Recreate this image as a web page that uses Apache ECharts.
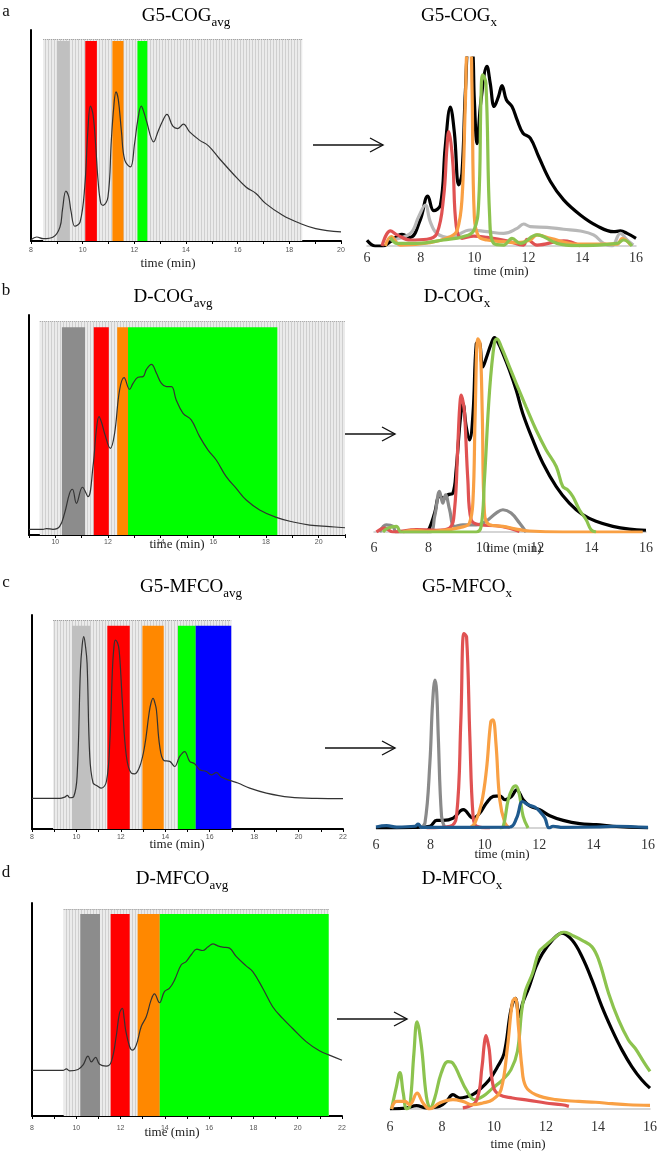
<!DOCTYPE html>
<html><head><meta charset="utf-8">
<script src="https://cdn.jsdelivr.net/npm/echarts@6/dist/echarts.min.js"></script>
<style>html,body{margin:0;padding:0;background:#fff}#c{width:660px;height:1152px}</style>
</head><body><div id="c"></div>
<script>
// ---------- DATA ----------
// Panel a (G5-COG)
const aLeftBlack=[[8.0,0.6],[8.22,1.9],[8.48,1.1],[8.86,1.9],[9.12,6.6],[9.22,15],[9.35,23.7],[9.46,21],[9.55,14],[9.7,7.0],[9.9,9.0],[10.08,25.6],[10.2,52],[10.3,63.9],[10.4,60],[10.5,46],[10.6,28],[10.7,18],[10.79,16.9],[10.98,20.9],[11.11,47.8],[11.2,63],[11.29,70.7],[11.38,67],[11.5,52],[11.63,38.3],[11.85,35.1],[12.01,46.2],[12.13,57],[12.27,63.9],[12.37,61],[12.46,57.3],[12.75,47],[12.91,51.7],[13.1,57],[13.26,60],[13.49,54.4],[13.68,53.3],[13.9,55.4],[14.14,51.7],[14.52,47.8],[14.87,45.1],[15.29,39.1],[15.81,32],[16.32,25.6],[16.71,22.5],[17.09,17.7],[17.74,12.2],[18.38,8.5],[19.02,5.9],[20,4.3]];
const aFraction=[8.47,18.5];
const aBands=[[9.0,9.5],[10.1,10.55],[11.15,11.58],[12.12,12.5]];
const aRightBlack=[[6.0,3],[6.3,0],[6.6,0],[6.87,2.3],[7.3,6.2],[7.61,4.6],[7.98,13.9],[8.26,26.6],[8.48,18.8],[8.73,21.8],[8.91,52.9],[9.1,73.9],[9.25,60],[9.41,32.5],[9.53,38.7],[9.66,83],[9.78,104],[9.9,104],[9.99,77.8],[10.09,54.4],[10.24,77.8],[10.46,95.6],[10.58,86.7],[10.73,74.2],[10.89,79.6],[11.02,85.3],[11.18,77.8],[11.39,74.2],[11.58,67.1],[11.8,60],[12.07,57.4],[12.38,47.6],[12.82,34.3],[13.31,24.5],[13.93,16.5],[14.55,10.7],[15.17,7.6],[15.42,8],[15.67,6.7],[16.0,4.1]];
const aRightGray=[[6.87,3.2],[7.61,6.7],[7.92,15.6],[8.17,21.8],[8.35,13],[8.6,6.7],[9.1,4.6],[9.84,8.5],[10.46,7.6],[11.08,6.7],[11.58,9.4],[11.82,11.7],[12.07,10.3],[12.69,9.9],[13.31,8.9],[13.93,8],[14.42,5.9],[14.8,1.4],[15.1,0],[15.42,6.7],[15.67,3.2],[15.9,0.5]];
const aRightRed=[[6.56,0],[6.87,8],[7.12,5.9],[7.61,3.2],[8.23,3.6],[8.6,6.7],[8.85,26.3],[8.97,52],[9.04,60.9],[9.12,55],[9.2,42.3],[9.32,10.3],[9.53,4.1],[9.97,5.3],[10.46,4.6],[11.2,2.8],[11.82,0.5],[11.95,3.6],[12.32,0.5],[13.31,2.8],[13.93,0]];
const aRightOrange=[[6.68,0],[6.9,5],[7.24,0.5],[8.35,1.8],[9.1,5],[9.35,8.2],[9.53,24.5],[9.66,77.8],[9.74,104],[9.84,104],[9.9,86.7],[9.99,15.6],[10.15,5],[10.46,3.2],[11.08,2.3],[11.58,1.8],[12.07,3.2],[12.32,5.9],[12.82,4.1],[13.81,1],[15.3,1],[15.48,4],[15.8,0.5]];
const aRightGreen=[[6.87,4.6],[7.12,1.4],[7.86,1.4],[8.85,3.2],[9.59,5],[9.97,8.2],[10.15,22.7],[10.24,80],[10.3,91.1],[10.42,86.7],[10.56,15.6],[10.71,1.4],[11.08,0.5],[11.39,4.1],[11.7,1.4],[12.32,5.9],[13.06,1.4],[13.81,0.2],[15.3,1.4],[15.54,3.2],[15.85,0]];

// Panel b (D-COG)
const bLeftBlack=[[9.0,2.6],[9.53,2.6],[9.66,2.9],[9.91,2.6],[10.16,3.8],[10.35,9.8],[10.54,18.9],[10.65,20.8],[10.8,14.4],[11.03,21.7],[11.24,17.4],[11.43,31.1],[11.56,48],[11.66,53.8],[11.76,51],[11.87,46.2],[12.09,39.4],[12.25,46.2],[12.44,65.9],[12.61,71.5],[12.82,66.2],[12.95,68.9],[13.14,71.7],[13.33,72],[13.46,75.3],[13.65,77.6],[13.84,73.5],[14.03,68.9],[14.22,67.4],[14.41,67.4],[14.59,61.4],[14.85,55.3],[15.16,52.3],[15.48,44.7],[15.8,38.6],[16.11,34.1],[16.49,26.5],[16.87,21.2],[17.25,15.9],[17.76,11.4],[18.39,8],[19.03,5.9],[19.66,4.5],[20.42,3.8],[21,3.3]];
const bFraction=[9.41,21];
const bBands=[[10.25,11.13],[11.46,12.03],[12.35,12.76],[12.76,18.43]];
const bRightBlack=[[7.92,0],[8.04,2],[8.23,9.7],[8.41,18.2],[8.59,17.4],[8.72,19.1],[8.9,19.9],[9.02,31.9],[9.17,57.4],[9.27,65.9],[9.39,54],[9.51,47.2],[9.64,60.8],[9.76,96.6],[9.86,97.4],[10.0,84.7],[10.12,88.9],[10.31,96.6],[10.43,99.7],[10.55,97.4],[10.74,91.5],[10.98,83],[11.23,72.7],[11.47,60.8],[11.84,47.2],[12.21,35.3],[12.7,23.3],[13.18,14.8],[13.67,8.9],[14.16,5.5],[14.78,2.9],[15.39,1.5],[16.0,0.9]];
const bRightGray=[[6.21,0],[6.45,3.7],[6.7,2.9],[6.82,0],[8.04,0],[8.23,8],[8.41,20.8],[8.53,14.8],[8.63,19.1],[8.78,11.4],[8.96,2.9],[9.27,3.7],[9.76,3.7],[10.12,5.5],[10.49,9.7],[10.74,11.4],[11.04,9.7],[11.35,4.6],[11.59,0]];
const bRightRed=[[6.09,0],[6.39,2],[6.7,0],[7.55,1.2],[8.29,0.9],[8.78,2],[8.96,11.4],[9.08,43.8],[9.15,64],[9.21,70.2],[9.27,67],[9.33,60.8],[9.45,26.7],[9.57,6.3],[9.88,3.7],[10.49,3.2],[10.98,2],[11.35,0.3]];
const bRightOrange=[[7.06,0],[7.43,0.9],[8.04,0.3],[9.27,2.6],[9.51,4.6],[9.64,16.5],[9.72,60.8],[9.82,99.1],[9.9,96.6],[9.98,60.8],[10.06,9.7],[10.25,3.7],[10.74,2.9],[11.23,1.5],[11.72,0.5],[12.94,0],[15.88,0]];
const bRightGreen=[[6.33,0],[6.51,2],[6.82,2.9],[7.0,0],[9.76,0],[9.94,2.9],[10.06,26.7],[10.25,72.7],[10.43,97.4],[10.52,99.1],[10.68,94.9],[10.98,84.7],[11.23,76.1],[11.59,64.2],[11.96,52.3],[12.33,42.1],[12.7,33.6],[12.94,23.3],[13.12,21.6],[13.31,18.2],[13.55,11.4],[13.8,6.3],[13.98,1.2],[14.16,0]];

// Panel c (G5-MFCO)
const cLeftBlack=[[8.0,14.3],[9.25,14.3],[9.47,14.9],[9.59,15.7],[9.7,14.6],[9.88,15.2],[10.03,24.6],[10.18,74.3],[10.26,86],[10.33,89.9],[10.4,86],[10.48,77.4],[10.6,33.9],[10.75,21.5],[10.93,20.2],[11.12,19.1],[11.35,22.2],[11.5,40.1],[11.62,74.3],[11.68,84],[11.75,88.3],[11.85,87],[11.92,83.7],[12.0,72],[12.07,58.8],[12.25,33.9],[12.47,26.1],[12.62,25.8],[12.85,29.2],[13.07,38.6],[13.27,54.1],[13.36,59],[13.45,61.1],[13.53,59],[13.6,55.7],[13.75,38.6],[13.94,32],[14.2,31.6],[14.42,29.2],[14.65,33.9],[14.87,36.2],[15.1,31.6],[15.32,30.5],[15.55,27.7],[15.85,26.9],[16.07,25.3],[16.3,26.4],[16.52,24.3],[16.9,22.7],[17.27,21.5],[17.8,19.1],[18.55,16.8],[19.6,14.9],[20.8,14.3],[22,14.2]];
const cFraction=[8.95,16.97];
const cBands=[[9.8,10.63],[11.39,12.4],[12.97,13.93],[14.57,15.37],[15.37,16.97]];
const cRightBlack=[[6.0,0],[7.37,0.3],[7.98,0.9],[8.23,3.9],[8.47,3.9],[8.84,5.1],[9.21,9.4],[9.57,5.1],[9.82,7.7],[10.06,12.8],[10.31,16.2],[10.55,16.5],[10.74,14.5],[10.98,16.2],[11.17,19.6],[11.41,14.5],[11.65,11.4],[12.02,9.4],[12.39,6.3],[12.88,3.9],[13.49,2.2],[14.1,1.7],[14.71,0.9],[16.0,0]];
const cRightGray=[[7.62,0],[7.8,2.6],[7.98,33.2],[8.08,64],[8.17,75.8],[8.23,70],[8.29,46.8],[8.41,6],[8.53,0]];
const cRightRed=[[7.86,0],[8.72,0.9],[8.96,6],[9.12,55.4],[9.23,99.7],[9.33,98],[9.45,46.8],[9.57,6],[9.7,0.9],[10.19,0]];
const cRightOrange=[[9.45,0],[9.64,2.6],[9.88,12.8],[10.06,29.8],[10.22,54.5],[10.3,55.5],[10.41,43.4],[10.55,14.5],[10.74,2.6],[10.92,0]];
const cRightGreen=[[10.55,0],[10.68,0.9],[10.86,14.5],[11.02,20.4],[11.14,21.6],[11.26,17.9],[11.41,6],[11.59,0]];
const cRightBlue=[[6.0,0.5],[6.39,1.2],[6.76,0.5],[7.43,0.9],[7.55,2],[7.68,0.3],[10.92,0.5],[11.17,5.1],[11.39,13.6],[11.59,11.9],[11.84,10.7],[12.02,8.5],[12.21,5.1],[12.36,0],[12.51,0.9],[12.88,0.3],[14.1,0.5],[14.84,0.9],[16.0,0.3]];

// Panel d (D-MFCO)
const dLeftBlack=[[8.0,21.4],[9.4,21.4],[9.55,22.1],[9.7,21.2],[10.08,21.8],[10.3,23.9],[10.53,28.1],[10.68,25.4],[10.87,27.5],[11.05,24.3],[11.35,23.4],[11.58,25.4],[11.8,37.2],[11.95,48.2],[12.08,50.5],[12.16,46],[12.23,40.3],[12.41,32.5],[12.53,30.9],[12.71,33.3],[12.93,41.9],[13.16,46.6],[13.38,54.5],[13.53,57.3],[13.76,53.2],[13.98,58.4],[14.21,60],[14.44,63.9],[14.74,71],[14.96,72.5],[15.19,75.7],[15.44,78.3],[15.71,77.7],[15.94,79.3],[16.17,80.8],[16.39,79.9],[16.62,79.3],[16.92,78.8],[17.22,74.9],[17.67,70.5],[17.97,67.8],[18.42,60],[18.87,51.3],[19.32,45.8],[19.77,41.1],[20.38,34.9],[20.98,30.6],[21.43,28.6],[22,26.2]];
const dFraction=[9.43,21.4];
const dBands=[[10.18,11.07],[11.55,12.41],[12.77,13.77],[13.77,21.4]];
const dRightBlack=[[6.0,0],[6.64,0.6],[7.02,1.9],[7.4,0.6],[7.91,1.5],[8.17,4.3],[8.42,8.1],[8.68,6.2],[8.93,6.8],[9.18,8.1],[9.44,10.9],[9.82,16.5],[10.14,24],[10.39,31.5],[10.65,55.9],[10.82,62.5],[10.97,52.2],[11.1,59.7],[11.35,69],[11.61,80.3],[11.86,87.8],[12.24,95.3],[12.62,99.4],[13.01,95.3],[13.39,85.9],[13.77,72.8],[14.15,57.8],[14.54,44.7],[14.92,33.4],[15.3,24],[15.68,16.5],[16.0,11.8]];
const dRightGreen=[[6.06,0],[6.25,12.8],[6.38,20.6],[6.51,9],[6.64,0],[6.76,1.5],[6.92,31.5],[7.04,49.3],[7.21,35.3],[7.4,7.1],[7.55,0.6],[7.72,6.2],[7.97,20.3],[8.23,26.8],[8.42,25.9],[8.68,18.4],[8.93,10.9],[9.25,5.3],[9.57,7.1],[9.95,11.8],[10.33,16.5],[10.65,22.1],[10.9,32.5],[11.07,55.9],[11.22,67.2],[11.48,76.5],[11.73,88.7],[11.99,92.5],[12.37,97.2],[12.69,100],[13.01,98.1],[13.39,95.3],[13.77,91.6],[14.03,84.1],[14.41,65.3],[14.79,50.3],[15.17,39],[15.43,34.3],[15.75,26.8],[16.0,21.2]];
const dRightRed=[[8.8,0.6],[9.31,4.3],[9.54,24],[9.62,36],[9.69,41.5],[9.76,38],[9.82,33.4],[9.97,12.8],[10.2,8.1],[10.71,6.2],[11.35,4.9],[11.99,3.4],[12.62,2.4],[12.88,1.5]];
const dRightOrange=[[6.06,0],[6.25,4.3],[6.57,4.3],[6.76,2.4],[7.04,9],[7.27,3.4],[7.53,0],[7.91,3.4],[8.42,5.3],[8.8,4.3],[9.18,2.4],[9.57,3.4],[9.95,5.3],[10.27,10.9],[10.52,35.3],[10.71,60.6],[10.82,62.5],[10.94,46.5],[11.07,24],[11.22,12.8],[11.61,8.1],[12.37,5.3],[13.26,4.3],[13.9,3.8],[14.54,3],[15.17,2.4],[16.0,2.1]];

// Labels
const titles=[['G5-COG','avg','G5-COG','x'],['D-COG','avg','D-COG','x'],['G5-MFCO','avg','G5-MFCO','x'],['D-MFCO','avg','D-MFCO','x']];
const letters=['a','b','c','d'];
const axisName='time (min)';
const leftRanges=[[8,20],[9,21],[8,22],[8,22]];
const rightRange=[6,16];

// ---------- STYLE / LAYOUT ----------
const bandColorsA=['#c0c0c0','#ff0000','#ff8800','#00ff00'];
const bandColorsB=['#8c8c8c','#ff0000','#ff8800','#00ff00'];
const bandColorsC=['#c0c0c0','#ff0000','#ff8800','#00ff00','#0000ff'];
const leftGrids=[{left:31,top:30,width:310,height:211},{left:29,top:315,width:316,height:220},{left:32,top:615,width:311,height:214},{left:32,top:903,width:310,height:213}];
const rightGrids=[{left:367,top:58,width:269,height:188},{left:374,top:337,width:272,height:195},{left:376,top:633,width:272,height:195},{left:390,top:932,width:262,height:177}];
const regionTops=[[95.7,94.8],[97,94.4],[97.7,95],[97.2,94.8]];
const leftLabelMargin=[6,4,5,9];
const rightLabelMargin=[5,9,10,11];
const SERIF='"Liberation Serif","DejaVu Serif",serif';
const COL={black:'#000',lgray:'#b8b8b8',gray:'#8a8a8a',red:'#e05252',orange:'#f9a044',green:'#8cc34e',blue:'#1f5a8e'};

function stripe(){const c=document.createElement('canvas');c.width=3;c.height=4;const g=c.getContext('2d');g.fillStyle='#ebebeb';g.fillRect(0,0,3,4);g.fillStyle='#cfcfcf';g.fillRect(0,0,1,4);return c;}
const stripeImg=stripe();

const grids=[],xAxes=[],yAxes=[],series=[];
const leftData=[aLeftBlack,bLeftBlack,cLeftBlack,dLeftBlack];
const fractions=[aFraction,bFraction,cFraction,dFraction];
const bands=[aBands,bBands,cBands,dBands];
const bandCols=[bandColorsA,bandColorsB,bandColorsC,bandColorsB];
const rightSets=[
  [[aRightBlack,COL.black],[aRightGray,COL.lgray],[aRightRed,COL.red],[aRightOrange,COL.orange],[aRightGreen,COL.green]],
  [[bRightBlack,COL.black],[bRightGray,COL.gray],[bRightRed,COL.red],[bRightOrange,COL.orange],[bRightGreen,COL.green]],
  [[cRightBlack,COL.black],[cRightGray,COL.gray],[cRightRed,COL.red],[cRightOrange,COL.orange],[cRightGreen,COL.green],[cRightBlue,COL.blue]],
  [[dRightBlack,COL.black],[dRightGreen,COL.green],[dRightRed,COL.red],[dRightOrange,COL.orange]]
];

for(let p=0;p<4;p++){
  let gi=grids.length;
  grids.push(Object.assign({},leftGrids[p]));
  xAxes.push({gridIndex:gi,type:'value',min:leftRanges[p][0],max:leftRanges[p][1],interval:1,
    axisLine:{show:true,onZero:false,lineStyle:{color:'#000',width:2}},
    axisTick:{show:true,length:3,lineStyle:{color:'#000',width:1}},
    axisLabel:{fontSize:7,color:'#555',fontFamily:'"Liberation Sans",Arial,sans-serif',margin:leftLabelMargin[p],
      formatter:v=>(v%2===0?String(v):'')},
    splitLine:{show:false}});
  yAxes.push({gridIndex:gi,type:'value',min:0,max:100,
    axisLine:{show:true,lineStyle:{color:'#000',width:2}},axisTick:{show:false},axisLabel:{show:false},splitLine:{show:false}});
  const ma=[[{xAxis:fractions[p][0],yAxis:0,itemStyle:{color:{image:stripeImg,repeat:'repeat'}}},{xAxis:fractions[p][1],yAxis:regionTops[p][0]}]];
  bands[p].forEach((b,i)=>ma.push([{xAxis:b[0],yAxis:0,itemStyle:{color:bandCols[p][i]}},{xAxis:b[1],yAxis:regionTops[p][1]}]));
  series.push({type:'line',xAxisIndex:gi,yAxisIndex:gi,data:leftData[p],showSymbol:false,smooth:0.4,
    lineStyle:{color:'#333',width:1.2},z:5,silent:true,
    markArea:{silent:true,data:ma},
    markLine:{silent:true,symbol:'none',label:{show:false},lineStyle:{color:'#9a9a9a',type:'dotted',width:1},
      data:[[{coord:[fractions[p][0],regionTops[p][0]]},{coord:[fractions[p][1],regionTops[p][0]]}]]}});
  gi=grids.length;
  grids.push(Object.assign({},rightGrids[p]));
  xAxes.push({gridIndex:gi,type:'value',min:rightRange[0],max:rightRange[1],interval:2,
    axisLine:{show:true,onZero:false,lineStyle:{color:'#c8c8c8',width:1.5}},axisTick:{show:false},
    axisLabel:{fontSize:14,color:'#333',fontFamily:SERIF,margin:rightLabelMargin[p]},splitLine:{show:false}});
  yAxes.push({gridIndex:gi,type:'value',min:0,max:100,show:false,splitLine:{show:false}});
  rightSets[p].forEach(([d,c],k)=>series.push({type:'line',xAxisIndex:gi,yAxisIndex:gi,data:d,showSymbol:false,smooth:0.4,
    clip:true,lineStyle:{color:c,width:3.2},z:3+k,silent:true}));
}

// ---------- annotations ----------
const g=[];
const titlePos=[[186,16,459,16],[173,297,457,297],[191,587,467,587],[182,879,462,879]];
const letterPos=[[6,12],[6,291],[6,583],[6,873]];
const rich={m:{fontSize:19,fontFamily:SERIF,color:'#111',lineHeight:26,verticalAlign:'middle'},
            s:{fontSize:13,fontFamily:SERIF,color:'#111',lineHeight:13,verticalAlign:'bottom'}};
for(let p=0;p<4;p++){
  const t=titles[p],tp=titlePos[p];
  g.push({type:'text',x:tp[0],y:tp[1],style:{text:'{m|'+t[0]+'}{s|'+t[1]+'}',rich,align:'center',verticalAlign:'middle'}});
  g.push({type:'text',x:tp[2],y:tp[3],style:{text:'{m|'+t[2]+'}{s|'+t[3]+'}',rich,align:'center',verticalAlign:'middle'}});
  g.push({type:'text',x:letterPos[p][0],y:letterPos[p][1],style:{text:letters[p],font:'17px '+SERIF,fill:'#111',align:'center',verticalAlign:'middle'}});
}
const namePos=[[168,264],[501,272],[177,545],[514,549],[177,845],[502,855],[172,1133],[518,1145]];
namePos.forEach(q=>g.push({type:'text',x:q[0],y:q[1],style:{text:axisName,font:'13px '+SERIF,fill:'#222',align:'center',verticalAlign:'middle'}}));
const arrows=[[313,383,145],[325,395,434],[325,395,748],[337,407,1019]];
arrows.forEach(a=>{
  g.push({type:'line',shape:{x1:a[0],y1:a[2],x2:a[1],y2:a[2]},style:{stroke:'#111',lineWidth:1.4}});
  g.push({type:'polyline',shape:{points:[[a[1]-13,a[2]-7],[a[1],a[2]],[a[1]-13,a[2]+7]]},style:{stroke:'#111',lineWidth:1.4,fill:null}});
});

const chart=echarts.init(document.getElementById('c'),null,{renderer:'canvas'});
chart.setOption({animation:false,backgroundColor:'#fff',grid:grids,xAxis:xAxes,yAxis:yAxes,series,graphic:g});
</script></body></html>
